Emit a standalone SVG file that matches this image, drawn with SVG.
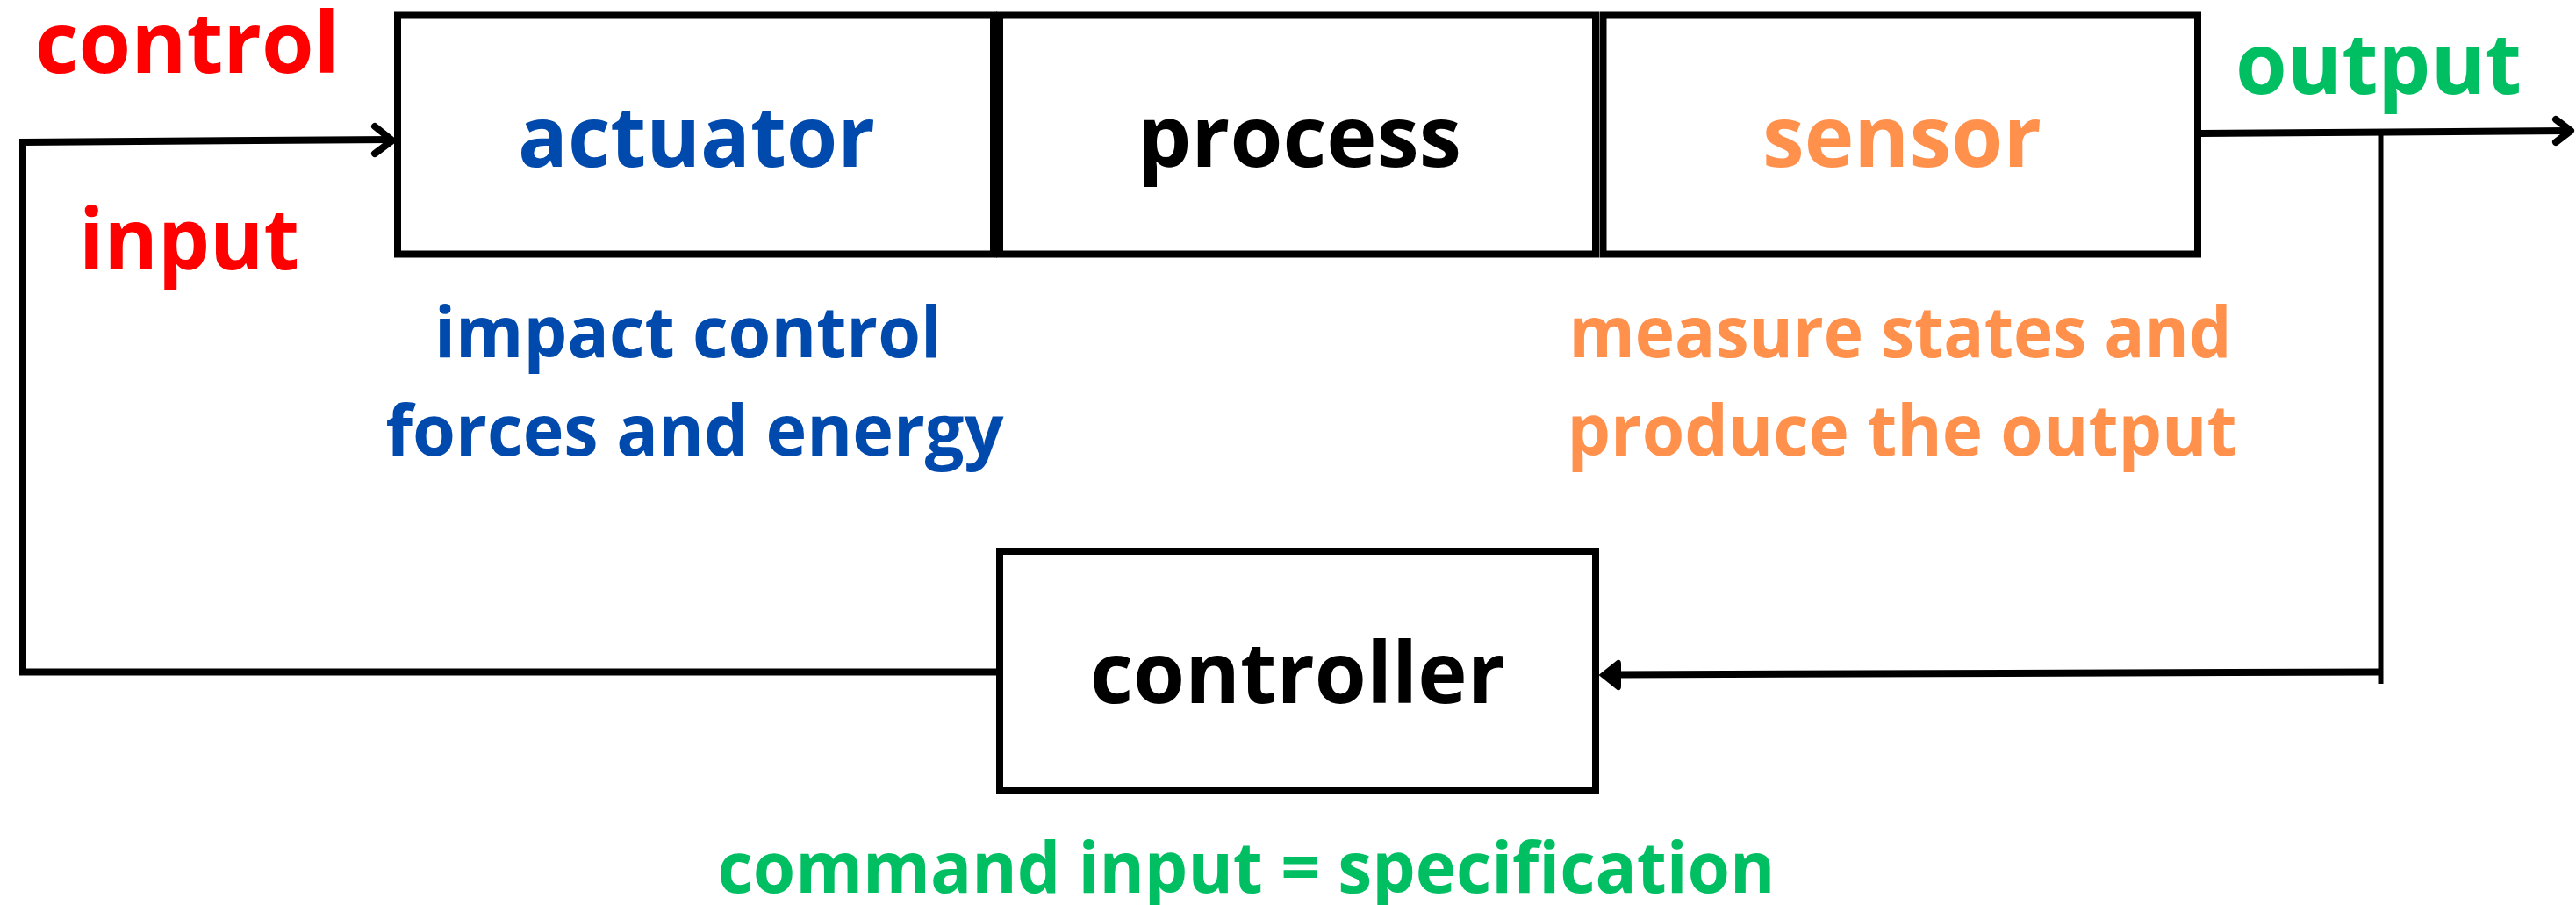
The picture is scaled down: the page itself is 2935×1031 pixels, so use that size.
<svg xmlns="http://www.w3.org/2000/svg" width="2935" height="1031" viewBox="0 0 2935 1031">
<style>
  .box { fill: #ffffff; stroke: #000000; stroke-width: 8; }
  .big { font-family: "Open Sans", "Liberation Sans", sans-serif; font-weight: 700; font-size: 97px; text-anchor: middle; }
  .small { font-family: "Open Sans", "Liberation Sans", sans-serif; font-weight: 700; font-size: 81px; text-anchor: middle; }
  .wire { fill: none; stroke: #000000; stroke-width: 8; }
  .thin { fill: none; stroke: #000000; stroke-width: 6; }
  .chev { fill: none; stroke: #000000; stroke-width: 8; stroke-linecap: round; stroke-linejoin: round; }
  .red { fill: #ff0000; }
  .blue { fill: #004aad; }
  .orange { fill: #ff914d; }
  .green { fill: #00bf63; }
  .black { fill: #000000; }
</style>
<rect width="2935" height="1031" fill="#ffffff"/>

<g id="connectors">
  <!-- control input line -->
  <line class="wire" x1="26" y1="162" x2="446" y2="159"/>
  <polyline class="chev" points="427,144 447,160 427,175"/>
  <!-- left vertical and bottom return -->
  <line class="wire" x1="26" y1="158" x2="26" y2="769"/>
  <line class="wire" x1="22" y1="765.5" x2="1136" y2="765.5"/>
  <!-- output line -->
  <line class="wire" x1="2508" y1="152" x2="2926" y2="149"/>
  <polyline class="chev" points="2912,136 2929,149 2912,162"/>
  <!-- feedback vertical -->
  <line class="thin" x1="2712.5" y1="152" x2="2712.5" y2="779"/>
  <!-- feedback horizontal to controller -->
  <line class="wire" x1="2713" y1="765.5" x2="1840" y2="768.5"/>
  <path d="M1823,769 L1843,753 Q1846,752 1846,756 L1846,782 Q1846,786 1843,785 Z" fill="#000000" stroke="#000000" stroke-width="2" stroke-linejoin="round"/>
</g>

<g id="actuator">
  <rect class="box" x="453" y="17.5" width="679" height="272"/>
  <text class="big blue" x="793.5" y="190" textLength="407" lengthAdjust="spacingAndGlyphs">actuator</text>
</g>

<g id="process">
  <rect class="box" x="1139" y="17.5" width="679" height="272"/>
  <text class="big black" x="1480.5" y="189.5" textLength="369" lengthAdjust="spacingAndGlyphs">process</text>
</g>

<g id="sensor">
  <rect class="box" x="1826.5" y="17.5" width="677.5" height="272"/>
  <text class="big orange" x="2167" y="190" textLength="318" lengthAdjust="spacingAndGlyphs">sensor</text>
</g>

<g id="controller">
  <rect class="box" x="1139" y="628" width="679" height="273"/>
  <text class="big black" x="1478.5" y="801" textLength="473" lengthAdjust="spacingAndGlyphs">controller</text>
</g>

<g id="labels">
  <text class="big red" x="213.5" y="83" textLength="347" lengthAdjust="spacingAndGlyphs">control</text>
  <text class="big red" x="215.5" y="307" textLength="251" lengthAdjust="spacingAndGlyphs">input</text>
  <text class="big green" x="2710" y="107" textLength="326" lengthAdjust="spacingAndGlyphs">output</text>
  <text class="small blue" x="784" y="407" textLength="578" lengthAdjust="spacingAndGlyphs">impact control</text>
  <text class="small blue" x="791.5" y="519" textLength="704" lengthAdjust="spacingAndGlyphs">forces and energy</text>
  <text class="small orange" x="2165" y="407" textLength="755" lengthAdjust="spacingAndGlyphs">measure states and</text>
  <text class="small orange" x="2167" y="519" textLength="763" lengthAdjust="spacingAndGlyphs">produce the output</text>
  <text class="small green" x="1420" y="1017" textLength="1205" lengthAdjust="spacingAndGlyphs">command input = specification</text>
</g>
</svg>
